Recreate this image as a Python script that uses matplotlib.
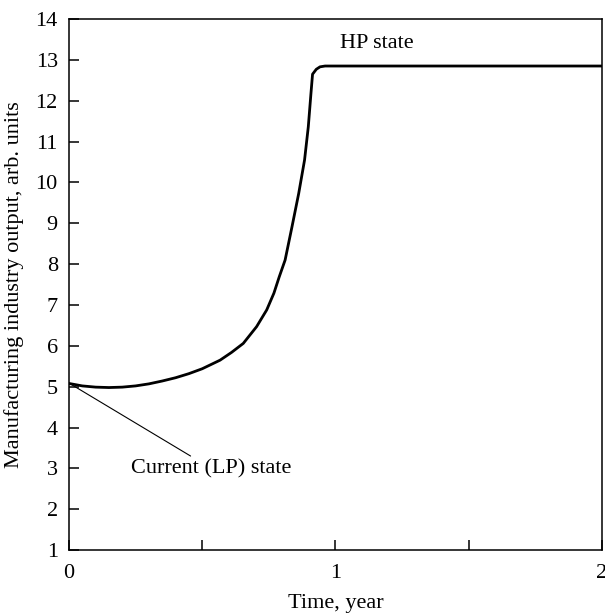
import matplotlib
matplotlib.use("Agg")
import matplotlib.pyplot as plt

# curve
t = [0.0, 0.05, 0.1, 0.15, 0.2, 0.25, 0.3, 0.35, 0.4, 0.45, 0.5, 0.567, 0.61,
     0.654, 0.704, 0.742, 0.769, 0.789, 0.811, 0.837, 0.862, 0.884, 0.898,
     0.908, 0.914, 0.928, 0.942, 0.961, 2.0]
output = [5.08, 5.02, 4.99, 4.98, 4.99, 5.02, 5.07, 5.14, 5.22, 5.32, 5.44, 5.65, 5.84,
          6.06, 6.47, 6.88, 7.29, 7.69, 8.10, 8.92, 9.73, 10.55, 11.36,
          12.18, 12.65, 12.77, 12.83, 12.85, 12.85]

x_ticks = [0, 0.5, 1, 1.5, 2]
x_labels = ["0", "", "1", "", "2"]
y_ticks = list(range(1, 15))

plt.rcParams['font.family'] = ['Liberation Serif', 'DejaVu Serif']
plt.rcParams['font.size'] = 16

fig = plt.figure(figsize=(6.05, 6.14), dpi=100)
ax = fig.add_axes([0.114, 0.104, 0.881, 0.865])

ax.plot(t, output, color="black", lw=2.0)

ax.set_xlim(0, 2)
ax.set_ylim(1, 14)
ax.set_xticks(x_ticks)
ax.set_xticklabels(x_labels)
ax.set_yticks(y_ticks)
ax.tick_params(direction="in", length=7.5, width=1.1, pad=10)
ax.tick_params(axis="y", pad=8)
for s in ax.spines.values():
    s.set_linewidth(1.1)

ax.set_xlabel("Time, year", labelpad=8)
ax.set_ylabel("Manufacturing industry output, arb. units", labelpad=8)

ax.annotate("Current (LP) state", xy=(0.005, 5.07), xytext=(0.233, 3.0),
            va="center", ha="left",
            arrowprops=dict(arrowstyle="-", color="black", lw=0.8, shrinkA=0, shrinkB=0))
ax.text(1.017, 13.39, "HP state", va="center", ha="left")

fig.savefig("out.png", dpi=100)
